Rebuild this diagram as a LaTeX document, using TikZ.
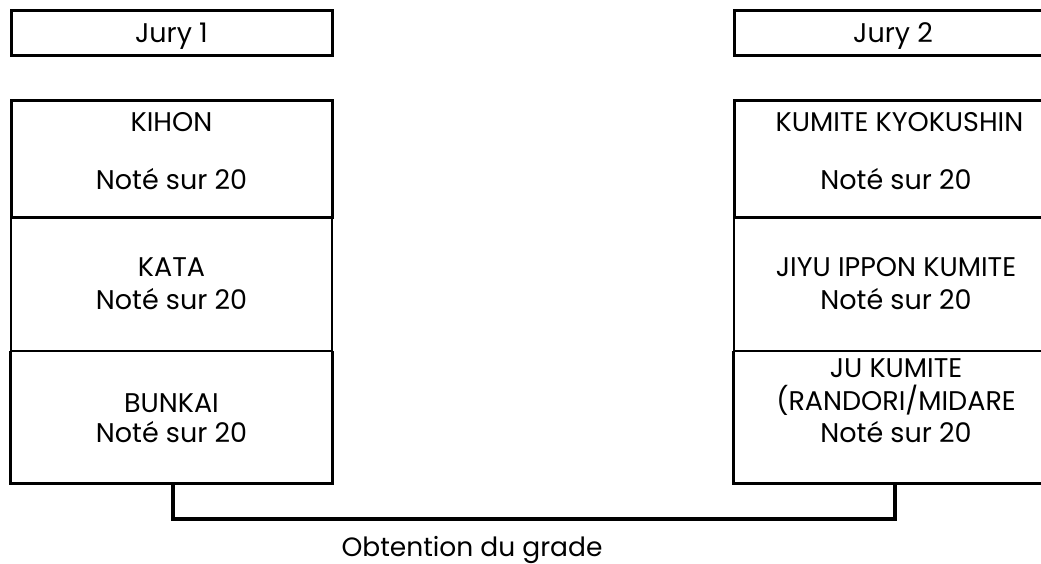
\documentclass[tikz,border=0pt]{standalone}
\usepackage{fontspec}
\setmainfont{Poppins}
\begin{document}
\begin{tikzpicture}[x=1pt,y=-1pt,
  thickbox/.style={draw=black,line width=3pt,inner sep=0pt},
  thinbox/.style={draw=black,line width=2pt,inner sep=0pt},
  nobox/.style={draw=none,inner sep=0pt},
  lbl/.style={anchor=base,inner sep=0pt,font=\fontsize{27}{32}\selectfont},
  biglbl/.style={anchor=base,inner sep=0pt,font=\fontsize{26.5}{32}\selectfont},
  link/.style={draw=black,line width=4pt}]
\useasboundingbox (0,0) rectangle (1041,564);
\clip (0,0) rectangle (1041,564);
% Jury headers
\node[thickbox,minimum width=321pt,minimum height=45pt] (j1) at (171.5,33.5) {};
\node[thickbox,minimum width=324pt,minimum height=45pt] (j2) at (896,33.5) {};
\node[lbl] (j1t) at (171.5,43) {Jury 1};
\node[lbl] (j2t) at (893,43) {Jury 2};
% Left stack
\node[thinbox,minimum width=321pt,minimum height=133pt] (kata) at (171.5,284.5) {};
\node[thickbox,minimum width=321pt,minimum height=117pt] (kihon) at (171.5,159.5) {};
\node[nobox,minimum width=321pt,minimum height=132pt] (bunkai) at (171.5,417) {};
\draw[line width=2pt] (bunkai.north west) -- (bunkai.north east);
\draw[line width=3pt,line join=miter] (bunkai.north west) -- (bunkai.south west) -- (bunkai.south east) -- (bunkai.north east);
\node[lbl] (kihont) at (171.5,132) {KIHON};
\node[lbl] (kihonn) at (171.5,190) {Noté sur 20};
\node[lbl] (katat) at (171.5,276) {KATA};
\node[lbl] (katan) at (171.5,309) {Noté sur 20};
\node[lbl] (bunkait) at (171.5,412) {BUNKAI};
\node[lbl] (bunkain) at (171.5,442) {Noté sur 20};
% Right stack
\node[thinbox,minimum width=324pt,minimum height=133pt] (jiyu) at (896,284.5) {};
\node[thickbox,minimum width=324pt,minimum height=117pt] (kyoku) at (896,159.5) {};
\node[nobox,minimum width=324pt,minimum height=132pt] (ju) at (896,417) {};
\draw[line width=2pt] (ju.north west) -- (ju.north east);
\draw[line width=3pt,line join=miter] (ju.north west) -- (ju.south west) -- (ju.south east) -- (ju.north east);
\node[lbl] (kyokut) at (899.5,132) {KUMITE KYOKUSHIN};
\node[lbl] (kyokun) at (896,190) {Noté sur 20};
\node[lbl] (jiyut) at (896,276) {JIYU IPPON KUMITE};
\node[lbl] (jiyun) at (896,309) {Noté sur 20};
\node[lbl] (jut) at (896,377) {JU KUMITE};
\node[lbl] (jur) at (896,410) {(RANDORI/MIDARE};
\node[lbl] (jun) at (896,442) {Noté sur 20};
% Connector
\coordinate (c1) at (173,519);
\coordinate (c2) at (895,519);
\draw[link] (bunkai.south -| c1) -- (c1) -- (c2) -- (ju.south -| c2);
\node[biglbl] (grade) at (472,556) {Obtention du grade};
\end{tikzpicture}
\end{document}
